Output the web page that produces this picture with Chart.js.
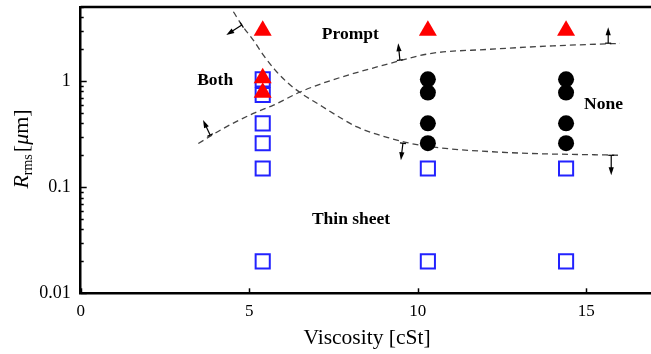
<!DOCTYPE html>
<html>
<head>
<meta charset="utf-8">
<script src="https://cdn.jsdelivr.net/npm/chart.js@4"></script>
<style>
  html, body { margin: 0; padding: 0; background: #fff; }
  #wrap { width: 651px; height: 354px; }
</style>
</head>
<body>
<div id="wrap"><canvas id="chart" width="651" height="354"></canvas></div>
<script>
// Dữ liệu
const thinSheetX = [5.4, 5.4, 5.4, 5.4, 5.4, 5.4, 10.3, 10.3, 14.4, 14.4];
const thinSheetY = [1.04, 0.74, 0.40, 0.26, 0.15, 0.02, 0.15, 0.02, 0.15, 0.02];

const promptX = [5.4, 5.4, 5.4, 10.3, 14.4];
const promptY = [3.0, 1.07, 0.78, 3.0, 3.0];

const noneX = [10.3, 10.3, 10.3, 10.3, 14.4, 14.4, 14.4, 14.4];
const noneY = [1.04, 0.78, 0.40, 0.26, 1.04, 0.78, 0.40, 0.26];

// đường ranh giới giảm dần (trên trái -> phải dưới)
const boundaryDownX = [4.53, 4.78, 5.12, 5.42, 5.77, 6.11, 6.51, 7.10, 7.35, 8.20, 9.18, 10.07, 12.45, 16.0];
const boundaryDownY = [4.51, 3.38, 2.44, 1.76, 1.27, 0.985, 0.78, 0.594, 0.53, 0.37, 0.29, 0.249, 0.214, 0.20];

// đường ranh giới tăng dần
const boundaryUpX = [3.49, 4.23, 5.12, 5.72, 6.51, 7.30, 9.18, 10.37, 12.05, 14.01, 16.0];
const boundaryUpY = [0.258, 0.358, 0.496, 0.594, 0.79, 0.985, 1.47, 1.82, 1.99, 2.15, 2.27];

// mũi tên: đuôi trên đường cong -> đầu
const arrowTailX = [4.78, 3.84, 9.47, 9.56, 15.65, 15.74];
const arrowTailY = [3.38, 0.31, 1.58, 0.26, 2.28, 0.20];
const arrowHeadX = [4.32, 3.63, 9.42, 9.50, 15.65, 15.74];
const arrowHeadY = [2.72, 0.43, 2.28, 0.18, 3.23, 0.13];

const regionNames = ['Both', 'Prompt', 'None', 'Thin sheet'];
const regionX = [3.99, 8.0, 15.51, 8.02];
const regionY = [1.02, 2.78, 0.607, 0.05];

const xTickValues = [0, 5, 10, 15];
const yTickValues = [0.01, 0.1, 1];

const SERIF = '"Liberation Serif", "DejaVu Serif", serif';
const toPoints = (xs, ys) => xs.map((x, i) => ({ x: x, y: ys[i] }));

const overlay = {
    id: 'overlay',
    afterDraw(chart) {
        const { ctx, chartArea: a, scales: { x, y } } = chart;
        ctx.save();
        ctx.strokeStyle = '#000';
        ctx.fillStyle = '#000';

        // khung trên
        ctx.lineWidth = 2.5;
        ctx.beginPath();
        ctx.moveTo(a.left, a.top);
        ctx.lineTo(a.right, a.top);
        ctx.stroke();

        // vạch chia hướng vào trong
        ctx.lineWidth = 1.5;
        xTickValues.forEach(v => {
            const px = Math.round(x.getPixelForValue(v)) + 0.5;
            ctx.beginPath();
            ctx.moveTo(px, a.bottom);
            ctx.lineTo(px, a.bottom - 5);
            ctx.stroke();
        });
        for (let d = -2; d <= 0; d++) {
            for (let k = 1; k <= 9; k++) {
                const v = k * Math.pow(10, d);
                if (v > y.max) break;
                const py = Math.round(y.getPixelForValue(v)) + 0.5;
                ctx.beginPath();
                ctx.moveTo(a.left, py);
                ctx.lineTo(a.left + (k === 1 ? 6 : 3), py);
                ctx.stroke();
            }
        }

        // mũi tên
        ctx.lineWidth = 1.2;
        arrowTailX.forEach((tx, i) => {
            const x0 = x.getPixelForValue(tx), y0 = y.getPixelForValue(arrowTailY[i]);
            const x1 = x.getPixelForValue(arrowHeadX[i]), y1 = y.getPixelForValue(arrowHeadY[i]);
            const ang = Math.atan2(y1 - y0, x1 - x0);
            ctx.beginPath();
            ctx.moveTo(x0, y0);
            ctx.lineTo(x1 - 5 * Math.cos(ang), y1 - 5 * Math.sin(ang));
            ctx.stroke();
            // thanh ngang ở đuôi
            const px = -Math.sin(ang) * 3, py = Math.cos(ang) * 3;
            ctx.beginPath();
            ctx.moveTo(x0 - px, y0 - py);
            ctx.lineTo(x0 + px, y0 + py);
            ctx.stroke();
            // đầu mũi tên
            ctx.beginPath();
            ctx.moveTo(x1, y1);
            ctx.lineTo(x1 - 8 * Math.cos(ang) + 2.6 * Math.sin(ang), y1 - 8 * Math.sin(ang) - 2.6 * Math.cos(ang));
            ctx.lineTo(x1 - 8 * Math.cos(ang) - 2.6 * Math.sin(ang), y1 - 8 * Math.sin(ang) + 2.6 * Math.cos(ang));
            ctx.closePath();
            ctx.fill();
        });

        // nhãn vùng
        ctx.font = 'bold 17.5px ' + SERIF;
        ctx.textAlign = 'center';
        ctx.textBaseline = 'middle';
        regionNames.forEach((name, i) => {
            ctx.fillText(name, x.getPixelForValue(regionX[i]), y.getPixelForValue(regionY[i]));
        });

        // tiêu đề trục x
        ctx.font = '21.5px ' + SERIF;
        ctx.fillText('Viscosity [cSt]', 367, 338);

        // tiêu đề trục y: R_rms [μm]
        ctx.translate(21, 150);
        ctx.rotate(-Math.PI / 2);
        const parts = [
            { t: 'R', f: 'italic 22px ' + SERIF, dy: 0 },
            { t: 'rms', f: '14px ' + SERIF, dy: 4 },
            { t: '[', f: '22px ' + SERIF, dy: 0 },
            { t: 'μ', f: 'italic 22px ' + SERIF, dy: 0 },
            { t: 'm]', f: '22px ' + SERIF, dy: 0 }
        ];
        let total = 0;
        parts.forEach(p => { ctx.font = p.f; p.w = ctx.measureText(p.t).width; total += p.w; });
        let cx = -total / 2;
        ctx.textAlign = 'left';
        ctx.textBaseline = 'alphabetic';
        parts.forEach(p => {
            ctx.font = p.f;
            ctx.fillText(p.t, cx, 7 + p.dy);
            cx += p.w + (p.t === 'rms' ? 2 : 0);
        });
        ctx.restore();
    }
};

new Chart(document.getElementById('chart'), {
    type: 'scatter',
    data: {
        datasets: [
            {
                label: 'Prompt',
                data: toPoints(promptX, promptY),
                pointStyle: 'triangle',
                pointRadius: 10.4,
                backgroundColor: '#ff0000',
                borderWidth: 0,
                order: 0
            },
            {
                label: 'None',
                data: toPoints(noneX, noneY),
                pointStyle: 'circle',
                pointRadius: 8,
                backgroundColor: '#000',
                borderWidth: 0,
                order: 1
            },
            {
                label: 'Thin sheet',
                data: toPoints(thinSheetX, thinSheetY),
                pointStyle: 'rect',
                pointRadius: 10,
                backgroundColor: 'rgba(0,0,0,0)',
                borderColor: '#2222ff',
                borderWidth: 2,
                order: 2
            },
            {
                label: 'boundary down',
                data: toPoints(boundaryDownX, boundaryDownY),
                showLine: true,
                pointRadius: 0,
                borderColor: '#444',
                borderWidth: 1.3,
                borderDash: [6, 4],
                cubicInterpolationMode: 'monotone',
                order: 3
            },
            {
                label: 'boundary up',
                data: toPoints(boundaryUpX, boundaryUpY),
                showLine: true,
                pointRadius: 0,
                borderColor: '#444',
                borderWidth: 1.3,
                borderDash: [6, 4],
                cubicInterpolationMode: 'monotone',
                order: 3
            }
        ]
    },
    options: {
        responsive: false,
        animation: false,
        devicePixelRatio: 1,
        layout: { autoPadding: false, padding: { top: 7, right: 0, left: 0, bottom: 0 } },
        plugins: { legend: { display: false }, tooltip: { enabled: false } },
        scales: {
            x: {
                type: 'linear',
                min: 0,
                max: 16.92,
                afterBuildTicks: s => { s.ticks = xTickValues.map(v => ({ value: v })); },
                afterFit: s => { s.height = 60.7; s.paddingLeft = 0; s.paddingRight = 0; },
                grid: { display: false, drawTicks: false },
                border: { color: '#000', width: 2.5 },
                ticks: { color: '#000', font: { family: SERIF, size: 17 }, padding: 8, maxRotation: 0 }
            },
            y: {
                type: 'logarithmic',
                min: 0.01,
                max: 5,
                afterBuildTicks: s => { s.ticks = yTickValues.map(v => ({ value: v })); },
                afterFit: s => { s.width = 80.7; s.paddingTop = 0; s.paddingBottom = 0; },
                grid: { display: false, drawTicks: false },
                border: { color: '#000', width: 2.5 },
                ticks: {
                    color: '#000',
                    font: { family: SERIF, size: 18 },
                    padding: 10,
                    autoSkip: false,
                    callback: v => String(v)
                }
            }
        }
    },
    plugins: [overlay]
});
</script>
</body>
</html>
